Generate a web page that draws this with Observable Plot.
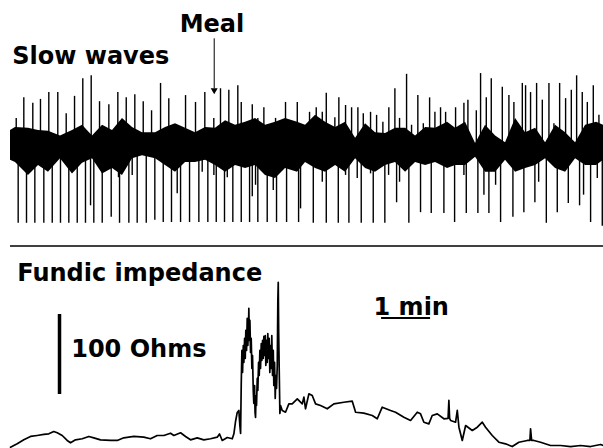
<!DOCTYPE html>
<html><head><meta charset="utf-8">
<script src="https://cdn.jsdelivr.net/npm/d3@7"></script>
<script src="https://cdn.jsdelivr.net/npm/@observablehq/plot@0.6"></script>
<style>body{margin:0;background:#fff;} svg{display:block;}</style>
</head><body><div id="chart"></div>
<script>
// ---- Slow waves (time in s, amplitude in mV) ----
const downT = [9.4,19.6,29.8,40.8,51.1,61.2,71.4,81.7,91.8,98.0,102.0,112.3,123.3,132.2,133.5,144.9,149.0,155.1,166.2,176.7,187.0,197.1,204.1,208.2,219.2,230.6,234.7,241.6,249.0,251.9,262.0,265.4,272.2,282.5,292.7,296.0,300.0,302.8,314.3,321.7,325.7,338.0,352.7,355.1,370.7,381.7,386.6,401.3,410.2,414.3,424.5,429.4,440.8,444.1,458.3,462.9,472.7,476.3,487.7,502.0,515.1,530.6,543.7,555.1,558.0,572.2,579.6,585.7,593.9,600.0,615.1,628.5,642.0,646.6,656.0,669.4,682.9,696.7,701.6,710.2,718.4,724.5];
const downV = [-1.01,-1.01,-1.01,-1.01,-1.01,-1.01,-1.01,-1.01,-1.01,-0.78,-1.01,-1.01,-0.93,-0.41,-1.01,-1.01,-0.38,-1.01,-1.01,-0.97,-1.00,-1.00,-0.62,-1.00,-1.00,-1.00,-0.34,-1.00,-0.38,-1.00,-1.00,-0.41,-1.00,-1.00,-1.00,-0.66,-0.51,-1.00,-1.00,-0.58,-1.00,-1.00,-1.00,-0.82,-1.01,-0.47,-1.01,-1.01,-0.38,-1.01,-0.42,-1.01,-0.36,-1.01,-1.01,-0.38,-0.74,-0.47,-1.01,-0.87,-0.88,-0.88,-1.00,-0.38,-0.88,-0.88,-0.64,-0.88,-0.51,-1.00,-0.93,-0.87,-0.74,-0.47,-1.01,-0.87,-0.75,-0.78,-0.64,-1.00,-0.42,-1.05];
const upT = [7.0,16.3,27.3,36.7,46.9,57.9,68.2,78.4,88.5,98.8,109.0,120.4,131.4,141.7,152.2,162.5,172.7,183.7,193.8,204.1,214.3,226.5,237.9,248.9,257.1,267.3,278.3,282.5,296.0,302.8,310.2,324.5,336.7,351.1,366.1,374.3,381.7,386.6,397.1,402.0,410.2,417.6,425.3,431.9,440.8,448.2,455.9,463.2,470.6,476.3,484.9,491.0,498.7,505.4,513.1,519.6,526.5,532.7,544.9,555.1,560.0,570.3,575.5,582.5,588.6,602.1,610.2,616.3,626.6,630.6,636.7,644.1,651.1,659.2,665.3,672.3,679.6,686.6,693.1,700.0,706.2,713.5,720.4];
const upV = [0.37,0.64,0.57,0.62,0.71,0.71,0.43,0.66,0.89,0.93,0.59,0.55,0.71,0.64,0.68,0.59,0.47,0.83,0.63,0.25,0.67,0.58,0.71,0.37,0.76,0.74,0.80,0.58,0.55,0.37,0.51,0.37,0.58,0.58,0.45,0.51,0.45,0.70,0.38,0.64,0.54,0.51,0.51,0.43,0.45,0.41,0.32,0.51,0.76,0.37,0.95,0.28,0.67,0.30,0.64,0.45,0.51,0.45,0.51,0.57,0.61,0.47,0.96,0.64,0.89,0.78,0.67,0.58,0.83,0.80,0.71,0.83,0.61,0.83,0.30,0.83,0.63,0.74,0.93,0.71,0.58,0.80,0.41];
const bandT = [0,6.1,22.0,34.3,46.5,61.2,75.9,88.2,100.4,112.7,124.9,137.1,149.4,161.6,177.6,189.8,202.0,214.3,226.5,238.8,251.0,263.3,275.5,287.8,300.0,312.2,324.5,336.7,351.4,361.2,373.5,385.7,398.0,410.2,422.5,434.7,446.9,459.2,471.4,483.7,495.9,508.2,520.4,535.1,544.9,557.1,569.4,581.6,593.9,606.1,618.4,630.6,642.9,655.1,667.3,679.6,691.8,704.1,717.5,726];
const bandHi = [0.21,0.25,0.24,0.21,0.20,0.14,0.21,0.28,0.14,0.28,0.21,0.37,0.25,0.18,0.18,0.25,0.30,0.24,0.18,0.25,0.24,0.34,0.28,0.32,0.37,0.28,0.32,0.37,0.32,0.28,0.41,0.32,0.25,0.32,0.11,0.30,0.18,0.17,0.24,0.24,0.14,0.25,0.24,0.32,0.24,0.32,0.04,0.28,0.14,0.05,0.37,0.18,0.24,0.05,0.28,0.18,0.05,0.28,0.32,0.28];
const bandLo = [-0.18,-0.21,-0.38,-0.25,-0.34,-0.16,-0.36,-0.22,-0.16,-0.36,-0.29,-0.38,-0.16,-0.12,-0.16,-0.25,-0.34,-0.21,-0.21,-0.18,-0.25,-0.34,-0.25,-0.29,-0.25,-0.38,-0.42,-0.29,-0.34,-0.21,-0.29,-0.34,-0.25,-0.34,-0.16,-0.29,-0.34,-0.25,-0.21,-0.34,-0.21,-0.25,-0.21,-0.29,-0.25,-0.25,-0.14,-0.34,-0.34,-0.18,-0.34,-0.29,-0.25,-0.16,-0.29,-0.34,-0.16,-0.25,-0.25,-0.18];
const mealT = 249.4;

// ---- Fundic impedance (time in s, change in Ohms) ----
const impT = [0,8.2,16.3,24.5,32.7,40.8,46.9,53.0,57.2,63.3,
69.4,73.5,79.6,87.8,95.9,102.0,110.2,122.5,130.7,138.7,
151.0,163.2,171.4,179.6,187.7,195.9,200.0,208.2,214.3,220.4,
228.6,236.7,244.9,253.1,255.9,259.2,265.4,271.5,273.5,275.5,
277.6,279.6,280.8,281.7,282.5,283.3,284.1,285.0,285.7,286.6,
287.4,288.1,289.0,289.8,290.6,291.4,291.8,292.4,293.1,293.9,
294.7,295.5,296.3,297.2,297.9,298.8,299.4,300.0,300.6,301.2,
302.1,302.8,303.7,304.5,305.3,306.1,307.0,307.7,308.6,309.4,
310.2,311.0,311.9,312.6,313.5,314.3,315.0,315.9,316.7,317.5,
318.4,319.2,319.9,320.8,321.7,322.4,323.3,324.1,324.9,325.7,
326.6,327.3,327.8,328.3,329.0,329.8,330.6,332.7,336.7,340.8,
344.9,351.1,357.2,359.2,361.2,365.3,369.4,373.5,379.6,387.8,
395.9,408.1,418.4,422.5,432.6,442.9,449.0,455.1,465.3,471.4,
481.6,489.8,498.0,502.0,506.1,512.2,516.3,522.5,530.6,535.7,
536.7,537.6,538.8,544.9,547.0,549.0,553.1,557.2,565.4,571.5,
577.6,581.6,589.8,597.9,606.1,614.3,622.4,632.7,635.9,636.7,
638.0,640.8,649.0,661.2,673.5,685.7,698.0,710.2,722.4,726];
const impOhm = [-2.1,2.1,7.1,11.3,12.5,13.8,14.6,17.5,15.9,12.5,
6.3,3.4,7.1,8.4,11.3,9.6,7.1,6.3,6.3,9.6,
11.3,10.4,8.4,12.5,12.5,15.4,12.5,15.9,11.3,7.1,
9.6,7.1,8.4,10.4,14.4,6.3,10.0,8.4,14.6,30.0,
41.3,43.8,25.0,15.0,77.5,118.8,91.3,125.0,103.8,133.8,
108.8,143.8,118.8,158.8,125.0,150.0,171.3,131.3,156.3,116.3,
133.8,96.3,112.5,68.8,52.5,75.0,41.3,35.0,62.5,50.0,
83.8,68.8,103.8,87.5,118.8,96.3,127.5,106.3,131.3,108.8,
136.3,112.5,137.5,100.0,131.3,103.8,140.0,108.8,133.8,91.3,
125.0,96.3,137.5,87.5,118.8,75.0,103.8,58.8,87.5,71.3,
100.0,181.3,203.8,143.8,93.8,40.0,50.0,43.8,41.6,52.1,
52.1,58.4,52.1,60.4,45.9,64.6,62.5,52.1,50.0,45.9,
52.1,54.1,55.4,41.6,40.4,37.5,33.4,47.9,43.8,41.6,
35.4,31.3,41.6,39.6,29.1,27.1,37.5,39.6,33.4,33.8,
56.3,33.8,31.3,29.1,43.8,22.9,6.3,25.0,18.8,22.9,
29.1,22.9,12.5,4.1,2.1,-1.3,4.1,6.3,6.3,20.9,
6.3,6.3,4.1,0,0,-1.3,0,-1.3,1.3,0];

// ---- Labels ----
const topLabels = ["Slow waves", "Meal"];
const bottomLabels = ["Fundic impedance", "100 Ohms", "1 min"];
const scaleOhms = 100;   // vertical scale bar
const scaleSec = 60;     // horizontal scale bar (1 min)

const down = downT.map((t, i) => ({t, v: downV[i]}));
const up = upT.map((t, i) => ({t, v: upV[i]}));
const band = bandT.map((t, i) => ({t, hi: bandHi[i], lo: bandLo[i]}));
const imp = impT.map((t, i) => ({t, v: impOhm[i]}));

const font = {fontFamily: "DejaVu Sans, Verdana, sans-serif", fontWeight: "bold", fontSize: 24, fill: "#000", lineAnchor: "bottom"};

const topChart = Plot.plot({
  width: 603, height: 244,
  marginLeft: 10, marginRight: 0, marginTop: 0, marginBottom: 0,
  x: {domain: [0, 726], axis: null},
  y: {domain: [-1.289, 1.921], axis: null},
  marks: [
    Plot.areaY(band, {x: "t", y1: "lo", y2: "hi", fill: "#000"}),
    Plot.ruleX(up, {x: "t", y1: 0, y2: "v", stroke: "#000", strokeWidth: 1.4}),
    Plot.ruleX(down, {x: "t", y1: 0, y2: "v", stroke: "#000", strokeWidth: 1.4}),
    Plot.ruleX([mealT], {y1: 1.417, y2: 0.76, stroke: "#000", strokeWidth: 1}),
    Plot.dot([mealT], {x: d => d, y: 0.74, symbol: "triangle", rotate: 180, r: 2.6, fill: "#000", stroke: null}),
    Plot.text([topLabels[0]], {x: 2.1, y: 1.088, text: d => d, textAnchor: "start", ...font}),
    Plot.text([topLabels[1]], {x: 246.7, y: 1.504, text: d => d, textAnchor: "middle", ...font})
  ]
});

const bottomChart = Plot.plot({
  width: 603, height: 204,
  marginLeft: 10, marginRight: 0, marginTop: 0, marginBottom: 0,
  x: {domain: [0, 726], axis: null},
  y: {domain: [-3.75, 251.25], axis: null},
  marks: [
    Plot.ruleY([249.4], {stroke: "#000", strokeWidth: 1.5}),
    Plot.line(imp, {x: "t", y: "v", stroke: "#000", strokeWidth: 1.7}),
    Plot.ruleX([60], {y1: 63.75, y2: 63.75 + scaleOhms, stroke: "#000", strokeWidth: 3.5}),
    Plot.ruleY([159.4], {x1: 454.3, x2: 454.3 + scaleSec, stroke: "#000", strokeWidth: 2}),
    Plot.text([bottomLabels[0]], {x: 8.2, y: 206.25, text: d => d, textAnchor: "start", ...font}),
    Plot.text([bottomLabels[1]], {x: 74.3, y: 110.4, text: d => d, textAnchor: "start", ...font}),
    Plot.text([bottomLabels[2]], {x: 444.5, y: 163.75, text: d => d, textAnchor: "start", ...font})
  ]
});

const root = document.getElementById("chart");
root.appendChild(topChart);
root.appendChild(bottomChart);
</script></body></html>
